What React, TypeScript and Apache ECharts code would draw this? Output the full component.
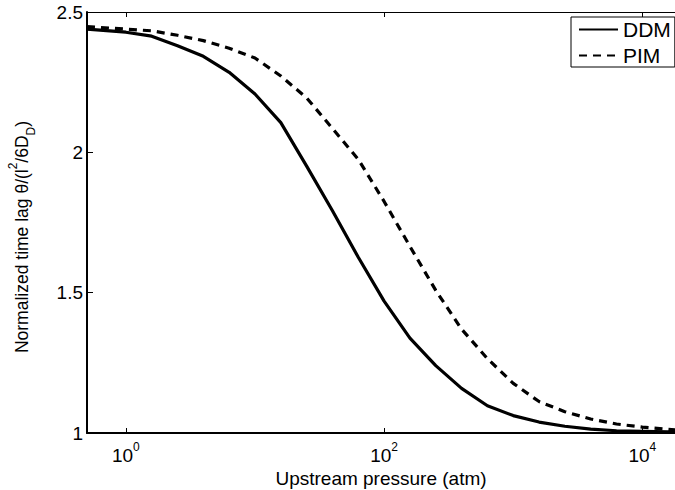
import React, { useEffect, useRef } from "react";
import * as echarts from "echarts";

// Upstream pressure (atm)
const pressure = [
  0.5, 1, 1.585, 2.512, 3.981, 6.31, 10, 15.85, 25.12, 39.81, 63.1, 100,
  158.5, 251.2, 398.1, 631, 1000, 1585, 2512, 3981, 6310, 10000, 15850, 17900,
];
// Normalized time lag, DDM
const ddm = [
  2.439, 2.428, 2.414, 2.38, 2.342, 2.285, 2.208, 2.106, 1.951, 1.792, 1.626,
  1.47, 1.338, 1.24, 1.159, 1.097, 1.062, 1.039, 1.024, 1.014, 1.008, 1.006,
  1.004, 1.004,
];
// Normalized time lag, PIM
const pim = [
  2.448, 2.439, 2.433, 2.417, 2.398, 2.371, 2.336, 2.272, 2.194, 2.085, 1.975,
  1.825, 1.665, 1.508, 1.37, 1.265, 1.177, 1.112, 1.076, 1.05, 1.032, 1.021,
  1.013, 1.011,
];
const xTickValues = [1, 100, 10000];
const seriesNames = ["DDM", "PIM"];

const FONT = "'Liberation Sans', Arial, Helvetica, sans-serif";

export default function App() {
  const ref = useRef<HTMLDivElement>(null);
  useEffect(() => {
    if (!ref.current) return;
    const chart = echarts.init(ref.current, undefined, { renderer: "svg" });
    const supFmt = (v: number) => "{b|10}{sup|" + Math.round(Math.log10(v)) + "}";
    const xCommon = {
      type: "log" as const,
      min: 0.5,
      max: 17900,
      splitLine: { show: false },
      minorTick: { show: false },
    };
    const legendText = { fontFamily: FONT, fontSize: 21, color: "#000" };
    chart.setOption({
      animation: false,
      backgroundColor: "#fff",
      grid: { left: 87, right: 0, top: 12, bottom: 57, outerBoundsMode: "none", containLabel: false },
      legend: {
        data: seriesNames.map((n) => ({ name: n, textStyle: legendText })),
        orient: "vertical",
        left: 571,
        top: 17,
        itemWidth: 39,
        itemHeight: 14,
        itemGap: 5,
        padding: [2, 4, 1, 7],
        borderColor: "#000",
        borderWidth: 1,
        backgroundColor: "#fff",
        itemStyle: { opacity: 0 },
        textStyle: legendText,
      },
      xAxis: [
        {
          ...xCommon,
          position: "bottom",
          axisLine: { show: true, lineStyle: { color: "#000", width: 2 } },
          axisTick: {
            show: true,
            inside: true,
            length: 5,
            customValues: xTickValues,
            lineStyle: { color: "#000", width: 1 },
          },
          axisLabel: {
            customValues: xTickValues,
            formatter: supFmt,
            color: "#000",
            margin: 8,
            fontFamily: FONT,
            fontSize: 19,
            rich: {
              b: { fontFamily: FONT, fontSize: 19, lineHeight: 28, color: "#000" },
              sup: { fontFamily: FONT, fontSize: 12, lineHeight: 12, verticalAlign: "top", color: "#000" },
            },
          },
          name: "Upstream pressure (atm)",
          nameLocation: "middle",
          nameGap: 24,
          nameTextStyle: { fontFamily: FONT, fontSize: 19, color: "#000" },
        },
        {
          ...xCommon,
          position: "top",
          axisLine: { show: true, lineStyle: { color: "#000", width: 1 } },
          axisTick: {
            show: true,
            inside: true,
            length: 5,
            customValues: xTickValues,
            lineStyle: { color: "#000", width: 1 },
          },
          axisLabel: { show: false },
        },
      ],
      yAxis: {
        type: "value",
        min: 1,
        max: 2.5,
        interval: 0.5,
        splitLine: { show: false },
        axisLine: { show: true, lineStyle: { color: "#000", width: 2 } },
        axisTick: { show: true, inside: true, length: 6, lineStyle: { color: "#000", width: 1 } },
        axisLabel: { color: "#000", margin: 4, fontFamily: FONT, fontSize: 19 },
      },
      graphic: [
        {
          type: "text",
          x: 22,
          y: 237,
          rotation: Math.PI / 2,
          style: {
            text: "{n|Normalized time lag θ/(l}{sup|2}{n|/6D}{sub|D}{n|)}",
            fontFamily: FONT,
            fontSize: 17.5,
            fill: "#000",
            align: "center",
            verticalAlign: "middle",
            rich: {
              n: { fontFamily: FONT, fontSize: 17.5, lineHeight: 30, fill: "#000" },
              sup: { fontFamily: FONT, fontSize: 12, lineHeight: 14, verticalAlign: "top", fill: "#000" },
              sub: { fontFamily: FONT, fontSize: 12, lineHeight: 14, verticalAlign: "bottom", fill: "#000" },
            },
          },
        },
      ],
      series: [
        {
          name: seriesNames[0],
          type: "line",
          xAxisIndex: 0,
          data: pressure.map((p, i) => [p, ddm[i]]),
          symbol: "none",
          lineStyle: { color: "#000", width: 3.2 },
          itemStyle: { color: "#000", opacity: 0 },
        },
        {
          name: seriesNames[1],
          type: "line",
          xAxisIndex: 0,
          data: pressure.map((p, i) => [p, pim[i]]),
          symbol: "none",
          lineStyle: { color: "#000", width: 3.2, type: [8, 6] },
          itemStyle: { color: "#000", opacity: 0 },
        },
      ],
    });
    return () => chart.dispose();
  }, []);
  return (
    <div
      ref={ref}
      style={{ position: "fixed", left: 0, top: 0, width: 675, height: 490 }}
    />
  );
}
